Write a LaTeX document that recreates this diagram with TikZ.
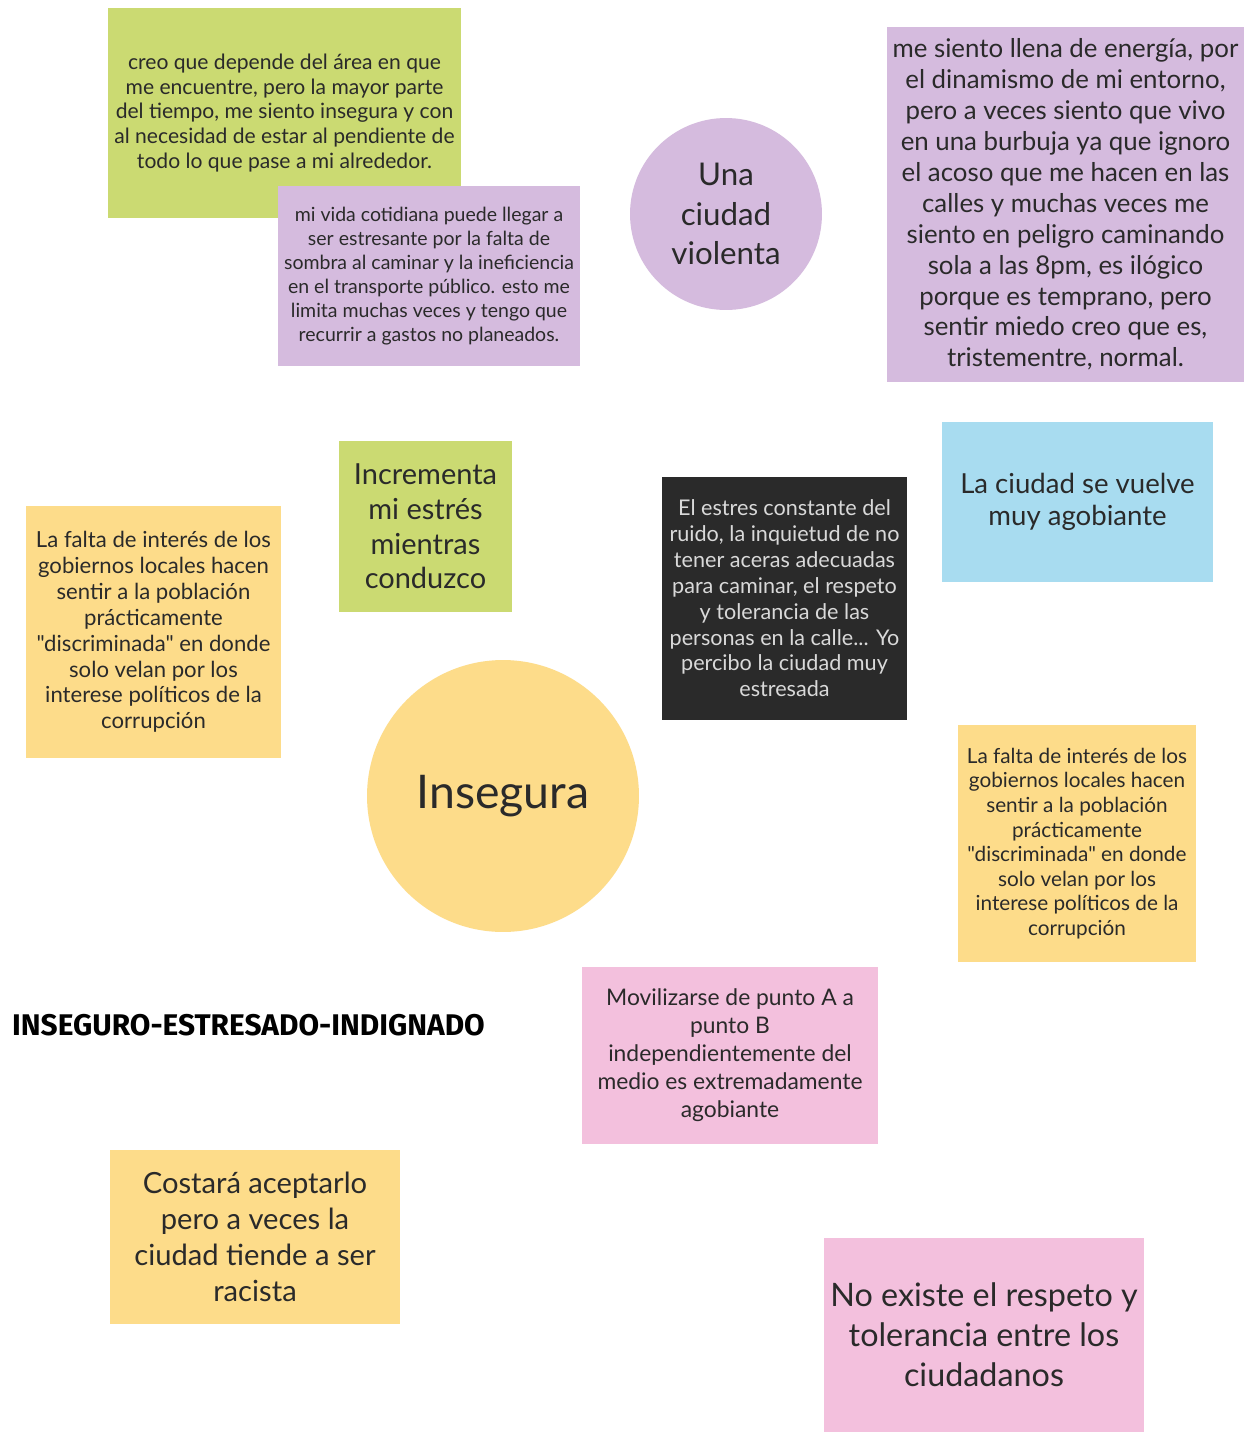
\documentclass[tikz,border=0pt]{standalone}
\usepackage{fontspec}
\setmainfont{Lato}[Ligatures=TeXOff]
\newfontfamily\comicfont{Fira Sans}
\usepackage{xcolor}
\definecolor{lima}{HTML}{CBDA72}
\definecolor{lila}{HTML}{D5BBDE}
\definecolor{cielo}{HTML}{A8DCF0}
\definecolor{ambar}{HTML}{FDDC8A}
\definecolor{rosa}{HTML}{F3C0DD}
\definecolor{tinta}{HTML}{2A2A2A}

\begin{document}
\begin{tikzpicture}[x=0.02cm,y=-0.02cm,every node/.style={align=center,inner sep=0pt,text=tinta}]
\tikzset{nota/.style={rectangle,fill=#1},burbuja/.style={circle,fill=#1},
  fs/.style args={#1/#2}{font=\fontsize{#1}{#2}\selectfont}}
\useasboundingbox[fill=white] (0,0) rectangle (1247,1438);
% fila superior
\node[nota=lima,minimum width=7.06cm,minimum height=4.2cm,fs=12/14.2] (creo) at (284.5,113)
  {creo que depende del área en que\\me encuentre, pero la mayor parte\\del tiempo, me siento insegura y con\\al necesidad de estar al pendiente de\\todo lo que pase a mi alrededor.};
\node[nota=lila,minimum width=6.04cm,minimum height=3.6cm,fs=11.1/13.6] (vida) at (429,276)
  {mi vida cotidiana puede llegar a\\ser estresante por la falta de\\sombra al caminar y la ineficiencia\\en el transporte público. esto me\\limita muchas veces y tengo que\\recurrir a gastos no planeados.};
\node[burbuja=lila,minimum size=3.84cm,fs=17.8/22.7] (violenta) at (726,214) {Una\\ciudad\\violenta};
\node[nota=lila,minimum width=7.14cm,minimum height=7.1cm,fs=14.7/17.6] (energia) at (1065.5,204.5)
  {me siento llena de energía, por\\el dinamismo de mi entorno,\\pero a veces siento que vivo\\en una burbuja ya que ignoro\\el acoso que me hacen en las\\calles y muchas veces me\\siento en peligro caminando\\sola a las 8pm, es ilógico\\porque es temprano, pero\\sentir miedo creo que es,\\tristementre, normal.};
% fila central
\node[nota=lima,minimum width=3.46cm,minimum height=3.42cm,fs=16.5/19.8] (conduzco) at (425.5,526.5)
  {Incrementa\\mi estrés\\mientras\\conduzco};
\node[nota=tinta,text=white!85!black,minimum width=4.9cm,minimum height=4.86cm,fs=12.3/14.7] (ruido) at (784.5,598.5)
  {El estres constante del\\ruido, la inquietud de no\\tener aceras adecuadas\\para caminar, el respeto\\y tolerancia de las\\personas en la calle... Yo\\percibo la ciudad muy\\estresada};
\node[nota=cielo,minimum width=5.42cm,minimum height=3.2cm,fs=15.7/18.1] (agobiante) at (1077.5,502)
  {La ciudad se vuelve\\muy agobiante};
\node[nota=ambar,minimum width=5.1cm,minimum height=5.04cm,fs=12.6/14.7] (falta1) at (153.5,632)
  {La falta de interés de los\\gobiernos locales hacen\\sentir a la población\\prácticamente\\"discriminada" en donde\\solo velan por los\\interese políticos de la\\corrupción};
\node[burbuja=ambar,minimum size=5.44cm,fs=26.4/32] (insegura) at (503,796) {Insegura};
\node[nota=ambar,minimum width=4.76cm,minimum height=4.74cm,fs=11.8/14] (falta2) at (1077,843.5)
  {La falta de interés de los\\gobiernos locales hacen\\sentir a la población\\prácticamente\\"discriminada" en donde\\solo velan por los\\interese políticos de la\\corrupción};
% fila inferior
\node[font=\comicfont\bfseries\fontsize{17}{20}\selectfont,text=black] (lema) at (248.5,1025) {INSEGURO-ESTRESADO-INDIGNADO};
\node[nota=rosa,minimum width=5.92cm,minimum height=3.54cm,fs=13/15.9] (movil) at (730,1055.5)
  {Movilizarse de punto A a\\punto B\\independientemente del\\medio es extremadamente\\agobiante};
\node[nota=ambar,minimum width=5.8cm,minimum height=3.48cm,fs=16.6/20.4] (racista) at (255,1237)
  {Costará aceptarlo\\pero a veces la\\ciudad tiende a ser\\racista};
\node[nota=rosa,minimum width=6.4cm,minimum height=3.88cm,fs=18.4/22.7] (respeto) at (984,1335)
  {No existe el respeto y\\tolerancia entre los\\ciudadanos};
\end{tikzpicture}
\end{document}
